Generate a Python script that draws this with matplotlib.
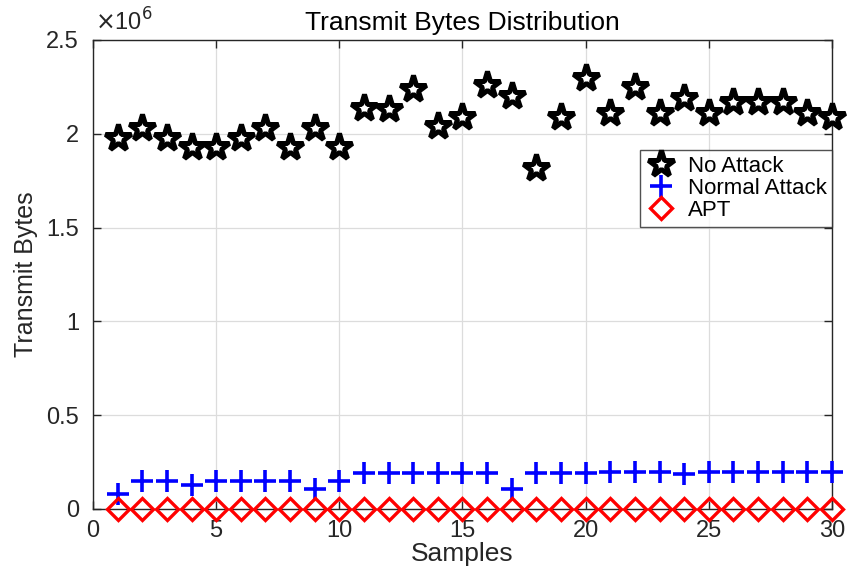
import numpy as np
import matplotlib
matplotlib.use("Agg")
import matplotlib.pyplot as plt
from matplotlib.ticker import FuncFormatter

plt.rcParams['font.family'] = ['Liberation Sans', 'DejaVu Sans']

samples = np.arange(1, 31)
# transmitted bytes per sample, in units of 1e6
no_attack = [1.98, 2.03, 1.98, 1.93, 1.93, 1.98, 2.03, 1.93, 2.03, 1.93,
             2.14, 2.13, 2.24, 2.04, 2.09, 2.26, 2.20, 1.82, 2.09, 2.30,
             2.11, 2.25, 2.11, 2.19, 2.11, 2.17, 2.17, 2.17, 2.11, 2.09]
normal_attack = [0.08, 0.15, 0.15, 0.13, 0.15, 0.15, 0.15, 0.15, 0.107, 0.15,
                 0.19, 0.19, 0.19, 0.19, 0.19, 0.19, 0.107, 0.19, 0.19, 0.19,
                 0.197, 0.197, 0.197, 0.187, 0.197, 0.197, 0.197, 0.197, 0.197, 0.197]
apt = [0.0] * 30

fig = plt.figure(figsize=(8.5, 5.73), dpi=100)
ax = fig.add_axes([0.1094, 0.1117, 0.8694, 0.8185])

scale = 1e6
ax.plot(samples, np.array(no_attack) * scale, linestyle='none', marker='*',
        markersize=20, markerfacecolor='white', markeredgecolor='black',
        markeredgewidth=3.6, label='No Attack', zorder=3, clip_on=False)
ax.plot(samples, np.array(normal_attack) * scale, linestyle='none', marker='+',
        markersize=16, markeredgecolor='#0000ff', markeredgewidth=2.6,
        label='Normal Attack', zorder=3, clip_on=False)
ax.plot(samples, np.array(apt) * scale, linestyle='none', marker='D',
        markersize=11, markerfacecolor='none', markeredgecolor='#ff0000',
        markeredgewidth=2.4, label='APT', zorder=3, clip_on=False)

ax.set_xlim(0, 30)
ax.set_ylim(0, 2.5e6)
ax.set_xticks([0, 5, 10, 15, 20, 25, 30])
ax.set_yticks(np.arange(0, 2.51e6, 0.5e6))
ax.yaxis.set_major_formatter(FuncFormatter(lambda v, p: '%g' % (v / scale)))
ax.text(0.003, 1.01, r'$\times$10$^{6}$', transform=ax.transAxes,
        fontsize=17, ha='left', va='bottom', color='#262626')

ax.grid(True, color='#dcdcdc', linewidth=0.9)
ax.set_axisbelow(True)
ax.tick_params(direction='in', length=6, width=1, labelsize=17,
               colors='#262626', top=True, right=True)
ax.tick_params(axis='x', pad=8)
ax.tick_params(axis='y', pad=10)
for sp in ax.spines.values():
    sp.set_color('#262626')
    sp.set_linewidth(1)

ax.set_title('Transmit Bytes Distribution', fontsize=19, pad=7)
ax.set_xlabel('Samples', fontsize=19, color='#262626', labelpad=0)
ax.set_ylabel('Transmit Bytes', fontsize=18, color='#262626', labelpad=6)

leg = ax.legend(loc='upper right', bbox_to_anchor=(1.0, 0.765), fontsize=16,
                frameon=True, fancybox=False, edgecolor='#262626',
                borderpad=0.25, labelspacing=0.05, handlelength=1.4,
                handletextpad=0.5, borderaxespad=0)
leg.get_frame().set_linewidth(1)

fig.savefig('out.png', dpi=100)
